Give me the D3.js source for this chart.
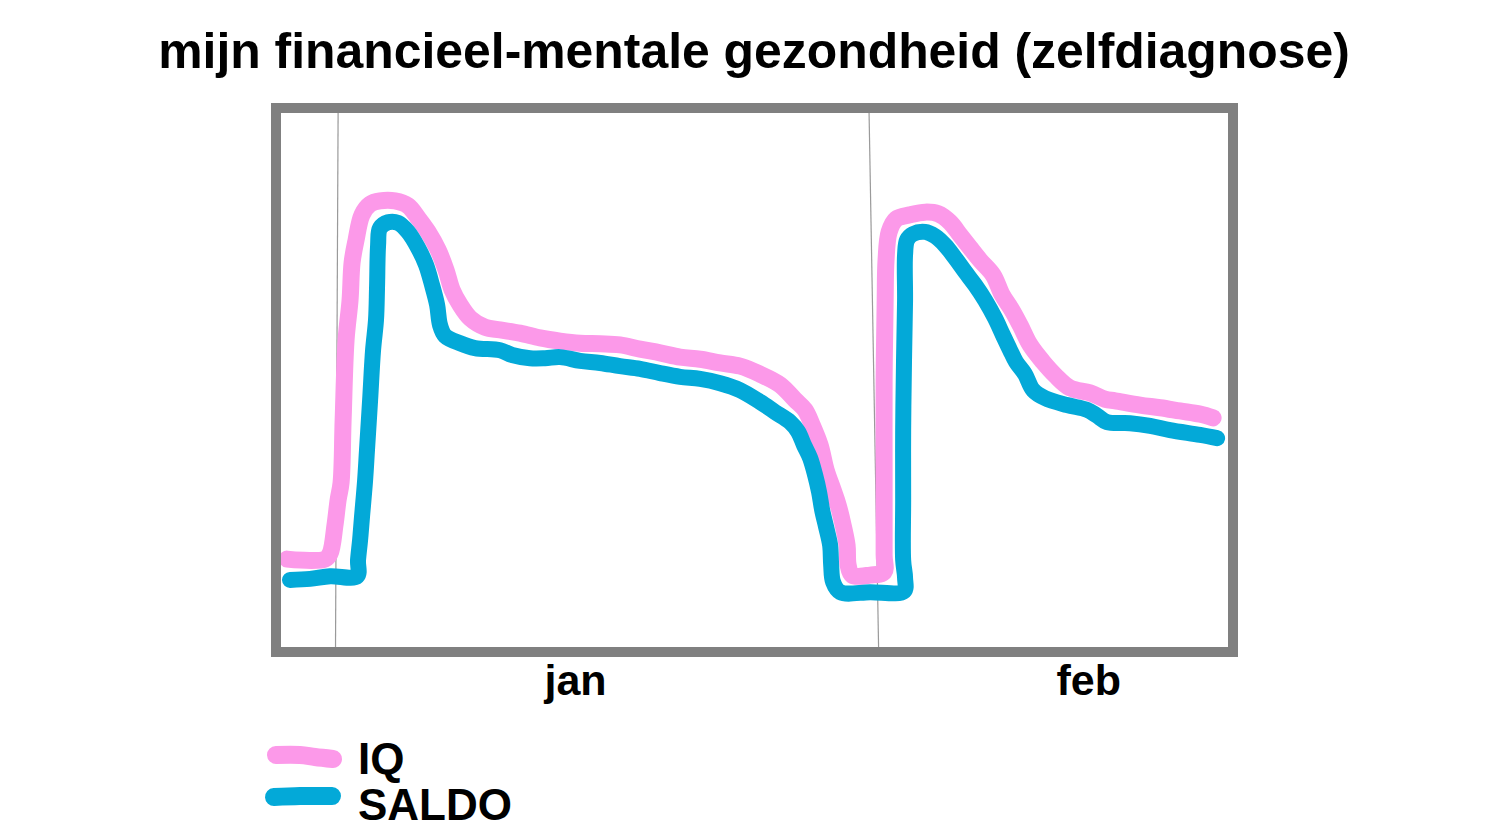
<!DOCTYPE html>
<html>
<head>
<meta charset="utf-8">
<script src="https://cdn.jsdelivr.net/npm/d3@7"></script>
<style>
  html, body { margin: 0; padding: 0; background: #ffffff; }
  svg text { font-family: "Liberation Sans", Arial, Helvetica, sans-serif; font-weight: bold; fill: #000; }
</style>
</head>
<body>
<svg id="chart" width="1500" height="838"></svg>
<script>
// ---------- data (x = day counted from 1 January, y = self-diagnosed level 0..100) ----------
const seriesNames = ["IQ", "SALDO"];

const iqDays = [-2.89, -0.69, -0.40, -0.12, 0.06, 0.23, 0.35, 0.52, 0.75, 0.87, 1.10, 1.44, 1.91, 2.48, 3.35, 4.10, 4.68, 5.26, 5.84, 6.30,
  6.65, 7.11, 7.69, 8.55, 9.42, 10.57, 11.73, 12.89, 14.04, 15.20, 16.35, 17.51, 18.66, 19.82, 20.98, 22.13, 23.29, 24.44, 25.60, 26.46,
  27.04, 27.45, 27.91, 28.26, 28.66, 28.95, 29.24, 29.47, 29.53, 29.76, 30.80, 31.61, 31.61, 31.61, 31.61, 31.67, 31.72, 31.90, 32.30, 33.11,
  33.98, 34.73, 35.42, 36.00, 36.58, 37.15, 37.91, 38.43, 39.00, 39.47, 40.04, 40.79, 41.49, 42.36, 43.51, 44.38, 44.96, 46.40, 47.56, 48.71,
  49.87, 50.62];
const iqValues = [16.3, 16.3, 17.4, 22.7, 27.4, 30.6, 42.4, 57.4, 64.9, 72.0, 76.2, 80.9, 82.9, 83.5, 83.5, 82.6, 80.3, 77.7, 74.3, 70.5,
  66.8, 64.0, 61.5, 59.8, 59.3, 58.7, 57.8, 57.2, 56.8, 56.7, 56.5, 55.7, 55.0, 54.2, 53.8, 53.1, 52.5, 51.0, 49.0, 46.2,
  44.3, 41.5, 37.7, 33.0, 29.3, 26.5, 22.7, 18.9, 15.2, 13.3, 13.3, 13.9, 17.1, 33.0, 49.9, 64.9, 72.4, 77.7, 80.1, 80.9,
  81.4, 81.1, 79.5, 77.1, 74.7, 72.4, 69.6, 65.9, 63.0, 60.2, 56.5, 53.3, 50.8, 48.4, 47.5, 46.3, 46.0, 45.2, 44.7, 44.1,
  43.5, 42.8];

const saldoDays = [-2.72, -1.56, -0.40, 1.16, 1.21, 1.33, 1.44, 1.62, 1.73, 1.91, 2.08, 2.25, 2.31, 2.37, 2.48, 2.95, 3.52, 4.10, 4.68, 5.14,
  5.49, 5.78, 5.95, 6.24, 7.11, 7.97, 9.42, 10.11, 11.15, 12.02, 12.89, 14.04, 15.20, 16.35, 17.51, 18.66, 19.82, 20.98, 22.13, 23.29,
  24.44, 25.31, 26.18, 26.64, 26.98, 27.33, 27.62, 27.85, 28.03, 28.26, 28.49, 28.55, 28.66, 29.07, 30.80, 32.76, 32.82, 32.71, 32.71, 32.71,
  32.76, 32.82, 32.82, 32.94, 33.28, 33.98, 34.55, 35.13, 35.71, 36.29, 36.87, 37.44, 38.02, 38.48, 38.89, 39.23, 39.75, 40.22, 40.91, 42.18,
  43.34, 43.92, 44.49, 45.82, 46.98, 48.13, 49.87, 50.85];
const saldoValues = [12.4, 12.6, 13.1, 13.1, 16.1, 19.9, 24.2, 31.1, 36.8, 46.2, 55.5, 61.2, 67.4, 75.2, 78.4, 79.5, 79.4, 77.7, 74.7, 71.5,
  67.7, 64.0, 60.2, 58.2, 56.8, 55.9, 55.5, 54.6, 54.0, 54.0, 54.2, 53.5, 53.1, 52.5, 52.0, 51.2, 50.5, 50.1, 49.3, 48.0,
  45.8, 43.9, 42.0, 40.2, 37.7, 35.3, 32.1, 28.9, 25.5, 22.3, 18.9, 15.2, 12.0, 10.1, 10.1, 10.3, 12.8, 16.1, 27.4, 40.5,
  53.7, 64.9, 73.4, 76.2, 77.3, 77.7, 76.9, 75.2, 72.8, 70.2, 67.7, 64.9, 61.5, 58.3, 55.5, 53.3, 51.0, 48.0, 46.5, 45.2,
  44.3, 43.2, 42.0, 41.8, 41.3, 40.5, 39.6, 39.0];

// month boundaries (hand drawn, slightly slanted): day at top and at bottom of the plot
const monthLineTop = [0.06, 30.74];
const monthLineBottom = [-0.09, 31.29];

// month labels and their (mid-month) positions in days
const monthLabels = ["jan", "feb"];
const monthLabelDays = [13.75, 43.4];

const xDomain = [-3.24, 51.48];
const yDomain = [0, 100];

// ---------- drawing ----------
const svg = d3.select("#chart");
const colors = { IQ: "#fc99e9", SALDO: "#03a9d8" };
const widths = { IQ: 17, SALDO: 16 };

const plot = { left: 281, right: 1228, top: 113, bottom: 646 };
const x = d3.scaleLinear().domain(xDomain).range([plot.left, plot.right]);
const y = d3.scaleLinear().domain(yDomain).range([plot.bottom, plot.top]);

// title
const title = svg.append("text")
  .attr("x", 754).attr("y", 68)
  .attr("text-anchor", "middle")
  .style("font-size", "50px")
  .text("mijn financieel-mentale gezondheid (zelfdiagnose)");
const tw = title.node().getComputedTextLength();
title.style("font-size", (50 * 1192 / tw) + "px");

// frame background
svg.append("rect")
  .attr("x", 276).attr("y", 108).attr("width", 957).attr("height", 544)
  .attr("fill", "#ffffff");

// month separator lines
svg.append("g").selectAll("line")
  .data(d3.range(monthLineTop.length))
  .join("line")
  .attr("x1", i => x(monthLineTop[i])).attr("y1", plot.top)
  .attr("x2", i => x(monthLineBottom[i])).attr("y2", plot.bottom + 1)
  .attr("stroke", "#9a9a9a").attr("stroke-width", 1.2);

// series
const series = [
  { name: "IQ", pts: iqDays.map((d, i) => [d, iqValues[i]]) },
  { name: "SALDO", pts: saldoDays.map((d, i) => [d, saldoValues[i]]) }
];
const line = d3.line()
  .x(d => x(d[0])).y(d => y(d[1]))
  .curve(d3.curveCatmullRom.alpha(0.5));

svg.append("g").selectAll("path")
  .data(series)
  .join("path")
  .attr("d", s => line(s.pts))
  .attr("fill", "none")
  .attr("stroke", s => colors[s.name])
  .attr("stroke-width", s => widths[s.name])
  .attr("stroke-linecap", "round")
  .attr("stroke-linejoin", "round");

// frame border
svg.append("rect")
  .attr("x", 276).attr("y", 108).attr("width", 957).attr("height", 544)
  .attr("fill", "none")
  .attr("stroke", "#808080").attr("stroke-width", 10);

// month labels via axis
const axis = d3.axisBottom(x)
  .tickValues(monthLabelDays)
  .tickFormat((d, i) => monthLabels[i])
  .tickSize(0)
  .tickPadding(0);
const ax = svg.append("g")
  .attr("transform", "translate(0,695)")
  .call(axis);
ax.select(".domain").remove();
ax.selectAll("text")
  .attr("dy", 0)
  .attr("y", 0)
  .style("font-size", "43px")
  .style("font-family", "'Liberation Sans', Arial, sans-serif")
  .style("font-weight", "bold")
  .attr("fill", "#000");

// legend
const legendRows = [
  { name: seriesNames[0], base: 774, path: [[276, 755], [300, 755], [315, 757], [333, 759]] },
  { name: seriesNames[1], base: 820, path: [[274, 797], [300, 796], [332, 796]] }
];
const lg = svg.append("g");
lg.selectAll("path")
  .data(legendRows)
  .join("path")
  .attr("d", r => d3.line().curve(d3.curveCatmullRom)(r.path))
  .attr("fill", "none")
  .attr("stroke", r => colors[r.name])
  .attr("stroke-width", 18)
  .attr("stroke-linecap", "round");
lg.selectAll("text")
  .data(legendRows)
  .join("text")
  .attr("x", 358)
  .attr("y", r => r.base)
  .style("font-size", "44px")
  .text(r => r.name);
</script>
</body>
</html>
